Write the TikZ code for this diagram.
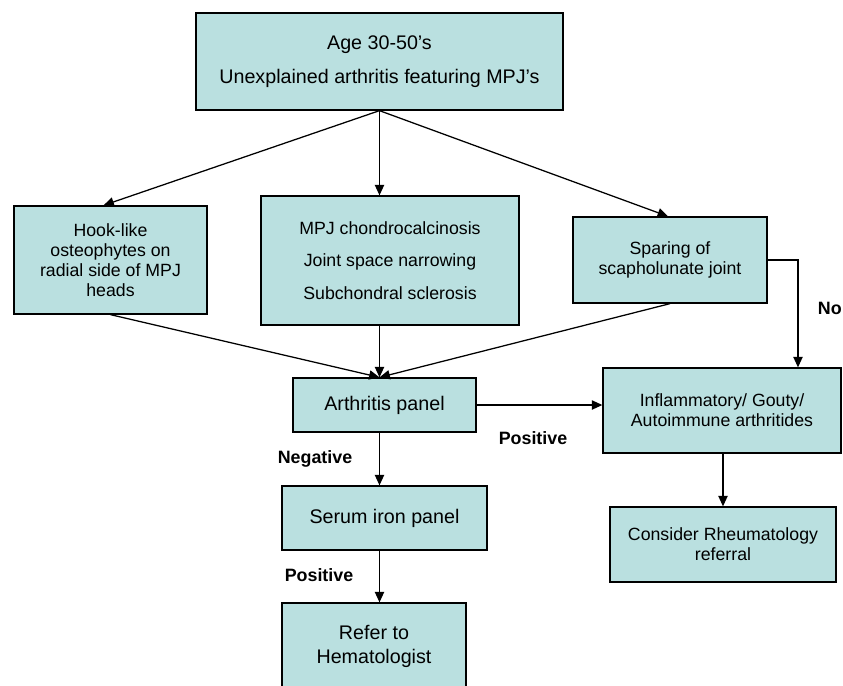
\documentclass[tikz,border=0pt]{standalone}
\usepackage{fontspec}
\setmainfont{Liberation Sans}
\usetikzlibrary{arrows.meta}
\definecolor{boxfill}{RGB}{186,224,224}

\begin{document}
\begin{tikzpicture}[x=0.025cm,y=-0.025cm,
    box/.style={draw, fill=boxfill, line width=0.9pt, align=center, inner sep=0pt,
        font=\fontsize{12.6}{14.2}\selectfont},
    bigtext/.style={font=\fontsize{14}{17}\selectfont},
    arr/.style={-{Triangle[length=2.6mm,width=2.3mm]}, line width=0.9pt},
    lbl/.style={font=\fontsize{12.7}{14}\selectfont\bfseries}]
\useasboundingbox (0,0) rectangle (843,685);
% boxes
\node[box, bigtext, minimum width=367*0.25mm, minimum height=97*0.25mm] (start) at (379.5,61.5)
    {Age 30-50’s\\[7pt] Unexplained arthritis featuring MPJ’s};
\node[box, minimum width=193*0.25mm, minimum height=108*0.25mm] (hook) at (110.5,260)
    {Hook-like\\ osteophytes on\\ radial side of MPJ\\ heads};
\node[box, minimum width=258*0.25mm, minimum height=129*0.25mm] (chondro) at (390,260.5)
    {MPJ chondrocalcinosis\\[8.8pt] Joint space narrowing\\[8.8pt] Subchondral sclerosis};
\node[box, minimum width=194*0.25mm, minimum height=86*0.25mm] (spare) at (670,260)
    {Sparing of\\ scapholunate joint};
\node[box, bigtext, minimum width=183*0.25mm, minimum height=54*0.25mm] (panel) at (384.5,405)
    {Arthritis panel};
\node[box, minimum width=238*0.25mm, minimum height=85*0.25mm] (inflam) at (722,410.5)
    {Inflammatory/ Gouty/\\ Autoimmune arthritides};
\node[box, bigtext, minimum width=205*0.25mm, minimum height=64*0.25mm] (iron) at (384.5,518)
    {Serum iron panel};
\node[box, minimum width=226*0.25mm, minimum height=75*0.25mm] (rheum) at (723,544.5)
    {Consider Rheumatology\\ referral};
\node[box, bigtext, minimum width=184*0.25mm, minimum height=87*0.25mm] (hema) at (374,646.5)
    {Refer to\\ Hematologist};
% labels
\node[lbl] (neg) at (315,459) {Negative};
\node[lbl] (pos1) at (533,438) {Positive};
\node[lbl] (pos2) at (319,575) {Positive};
\node[lbl, anchor=east, inner sep=0pt] (no) at (842,308) {No};
% connectors
\coordinate (split) at (start.south);
\coordinate (bend) at (798,260);
\draw[arr] (split) -- ([xshift=-7*0.25mm]hook.north);
\draw[arr] (split) -- (split |- chondro.north);
\draw[arr] (split) -- ([xshift=-2*0.25mm]spare.north);
\draw[arr] (hook.south) -- (split |- panel.north);
\draw[arr] (split |- chondro.south) -- (split |- panel.north);
\draw[arr] (spare.south) -- (split |- panel.north);
\draw[arr] (spare.east) -- (bend) -- (bend |- inflam.north);
\draw[arr] (panel.east) -- (panel.east -| inflam.west);
\draw[arr] (split |- panel.south) -- (split |- iron.north);
\draw[arr] (split |- iron.south) -- (split |- hema.north);
\draw[arr] (inflam.south -| rheum.north) -- (rheum.north);
\end{tikzpicture}
\end{document}
